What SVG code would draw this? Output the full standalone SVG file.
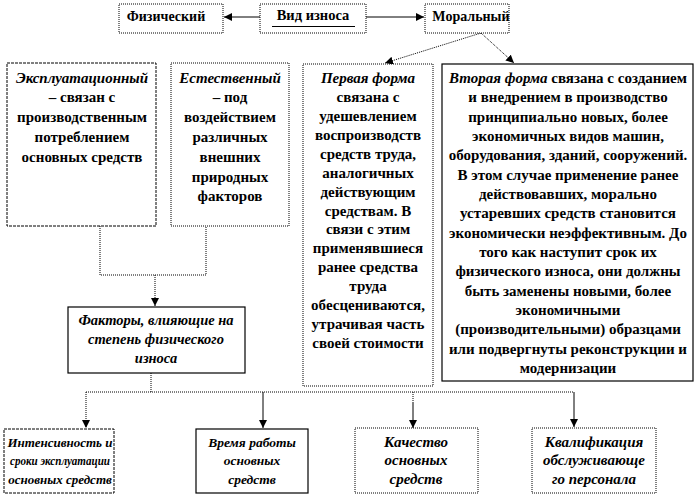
<svg xmlns="http://www.w3.org/2000/svg" width="695" height="497" viewBox="0 0 695 497">
<style>
  text { font-family: "Liberation Serif", "Times New Roman", serif; font-weight: bold; font-size: 14px; fill: #000; text-anchor: middle; }
  .it { font-style: italic; }
  .m text { font-size: 15px; }
  .f text { font-size: 14.5px; }
  .s text { font-size: 13px; }
  .box { fill: #fff; }
  .solid { stroke: #000; stroke-width: 1.2; }
  .dot { stroke: #000; stroke-width: 1; stroke-dasharray: 1 1; }
  .dash { stroke: #000; stroke-width: 1; stroke-dasharray: 3 1; }
  .ln { fill: none; stroke: #000; stroke-width: 1; }
  .dl { fill: none; stroke: #000; stroke-width: 1; stroke-dasharray: 1 1; }
</style>
<defs>
  <marker id="ah" viewBox="0 0 8 8" refX="8" refY="4" markerWidth="8" markerHeight="8" markerUnits="userSpaceOnUse" orient="auto">
    <path d="M0,0 L8,4 L0,8 Z" fill="#000"/>
  </marker>
</defs>
<rect width="695" height="497" fill="#fff"/>

<g id="connectors">
  <line class="ln" x1="260" y1="17" x2="224" y2="17" marker-end="url(#ah)"/>
  <line class="ln" x1="366" y1="17" x2="424" y2="17" marker-end="url(#ah)"/>
  <line class="dl" x1="481" y1="33" x2="385" y2="63" marker-end="url(#ah)"/>
  <line class="dl" x1="481" y1="33" x2="514" y2="63" marker-end="url(#ah)"/>
  <polyline class="dl" points="100,226 100,275 206,275 206,226"/>
  <line class="dl" x1="155" y1="275" x2="155" y2="306" marker-end="url(#ah)"/>
  <line class="dl" x1="151" y1="373" x2="151" y2="392"/>
  <line class="dl" x1="86" y1="392" x2="574" y2="392"/>
  <line class="dl" x1="86" y1="392" x2="86" y2="428" marker-end="url(#ah)"/>
  <line class="ln" x1="263" y1="392" x2="263" y2="428" marker-end="url(#ah)"/>
  <line class="dl" x1="413" y1="392" x2="413" y2="402"/>
  <line class="ln" x1="413" y1="402" x2="413" y2="428" marker-end="url(#ah)"/>
  <line class="ln" x1="574" y1="392" x2="574" y2="427" marker-end="url(#ah)"/>
</g>

<g id="fizicheskiy">
  <rect class="box dot" x="119" y="4" width="104" height="29"/>
  <text x="166" y="21">Физический</text>
</g>
<g id="vid-iznosa">
  <rect class="box dot" x="260" y="4" width="106" height="29"/>
  <text x="313" y="20" style="font-size:14.5px">Вид износа</text>
  <line class="ln" x1="272" y1="26.5" x2="355" y2="26.5"/>
</g>
<g id="moralnyy">
  <rect class="box dot" x="425" y="4" width="84" height="29"/>
  <text x="471" y="21">Моральный</text>
</g>

<g id="ekspluatatsionnyy" class="m">
  <rect class="box dash" x="7" y="63" width="149" height="163"/>
  <text x="82" y="83" class="it">Эксплуатационный</text>
  <text x="82" y="102">– связан с</text>
  <text x="82" y="122">производственным</text>
  <text x="82" y="142">потреблением</text>
  <text x="82" y="162">основных  средств</text>
</g>

<g id="estestvennyy" class="m">
  <rect class="box dot" x="171" y="63" width="118" height="163"/>
  <text x="230" y="83" class="it">Естественный</text>
  <text x="230" y="102">– под</text>
  <text x="230" y="122">воздействием</text>
  <text x="230" y="142">различных</text>
  <text x="230" y="162">внешних</text>
  <text x="230" y="182">природных</text>
  <text x="230" y="201">факторов</text>
</g>

<g id="pervaya-forma" class="m">
  <rect class="box dot" x="303" y="64" width="130" height="322"/>
  <text x="368" y="83" class="it">Первая форма</text>
  <text x="368" y="102">связана с</text>
  <text x="368" y="121">удешевлением</text>
  <text x="368" y="140">воспроизводств</text>
  <text x="368" y="159">средств труда,</text>
  <text x="368" y="178">аналогичных</text>
  <text x="368" y="197">действующим</text>
  <text x="368" y="216">средствам. В</text>
  <text x="368" y="234">связи  с этим</text>
  <text x="368" y="253">применявшиеся</text>
  <text x="368" y="272">ранее средства</text>
  <text x="368" y="291">труда</text>
  <text x="368" y="310">обесцениваются,</text>
  <text x="368" y="329">утрачивая часть</text>
  <text x="368" y="348">своей стоимости</text>
</g>

<g id="vtoraya-forma" class="m">
  <rect class="box solid" x="442" y="64" width="251" height="317"/>
  <text x="568" y="83"><tspan class="it">Вторая форма</tspan> связана с созданием</text>
  <text x="568" y="102">и внедрением в производство</text>
  <text x="568" y="122">принципиально  новых, более</text>
  <text x="568" y="141">экономичных  видов машин,</text>
  <text x="568" y="160">оборудования, зданий, сооружений.</text>
  <text x="568" y="180">В этом случае  применение  ранее</text>
  <text x="568" y="199">действовавших, морально</text>
  <text x="568" y="218">устаревших средств становится</text>
  <text x="568" y="238">экономически неэффективным.  До</text>
  <text x="568" y="257">того  как наступит срок их</text>
  <text x="568" y="276">физического  износа, они должны</text>
  <text x="568" y="296">быть заменены новыми, более</text>
  <text x="568" y="315">экономичными</text>
  <text x="568" y="334">(производительными)  образцами</text>
  <text x="568" y="354">или подвергнуты реконструкции  и</text>
  <text x="568" y="373">модернизации</text>
</g>

<g id="faktory" class="f">
  <rect class="box solid" x="68" y="307" width="177" height="66"/>
  <text x="156" y="325" class="it">Факторы, влияющие на</text>
  <text x="156" y="344" class="it">степень физического</text>
  <text x="156" y="363" class="it">износа</text>
</g>

<g id="intensivnost" class="s">
  <rect class="box dash" x="4" y="429" width="110" height="64"/>
  <text x="60" y="447" class="it">Интенсивность и</text>
  <text x="60" y="465" class="it" textLength="100" lengthAdjust="spacingAndGlyphs">сроки эксплуатации</text>
  <text x="60" y="484" class="it">основных средств</text>
</g>

<g id="vremya-raboty">
  <rect class="box solid" x="196" y="429" width="112" height="64"/>
  <text x="252" y="447" class="it" style="font-size:13.5px">Время работы</text>
  <text x="252" y="465" class="it" style="font-size:13.5px">основных</text>
  <text x="252" y="484" class="it" style="font-size:13.5px">средств</text>
</g>

<g id="kachestvo" class="m">
  <rect class="box dot" x="355" y="428" width="123" height="65"/>
  <text x="416" y="447" class="it">Качество</text>
  <text x="416" y="465" class="it">основных</text>
  <text x="416" y="484" class="it">средств</text>
</g>

<g id="kvalifikatsiya" class="m">
  <rect class="box dot" x="532" y="428" width="124" height="65"/>
  <text x="594" y="447" class="it">Квалификация</text>
  <text x="594" y="465" class="it">обслуживающе</text>
  <text x="594" y="484" class="it">го  персонала</text>
</g>
</svg>
